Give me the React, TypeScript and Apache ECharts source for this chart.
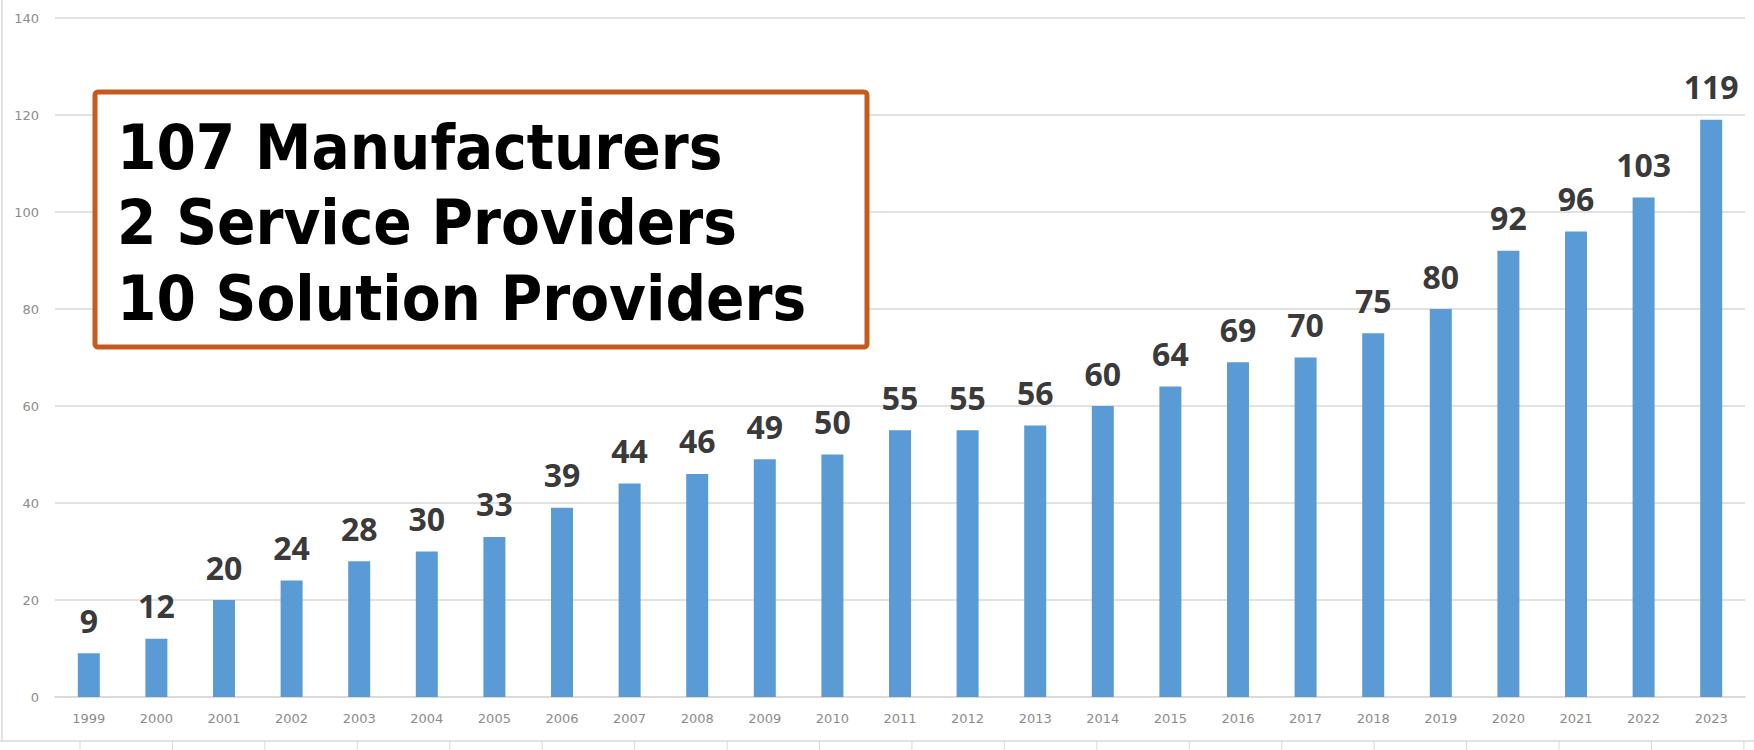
import React, { useEffect, useRef } from "react";
import * as echarts from "echarts";

const years = ["1999","2000","2001","2002","2003","2004","2005","2006","2007","2008","2009","2010","2011","2012","2013","2014","2015","2016","2017","2018","2019","2020","2021","2022","2023"];
const members = [9,12,20,24,28,30,33,39,44,46,49,50,55,55,56,60,64,69,70,75,80,92,96,103,119];
const boxLines = ["107 Manufacturers", "2 Service Providers", "10 Solution Providers"];

export default function App() {
  const ref = useRef<HTMLDivElement>(null);
  useEffect(() => {
    if (!ref.current) return;
    const chart = echarts.init(ref.current, undefined, { renderer: "svg" });
    const frameColor = "#d9d9d9";
    const ticks: any[] = [];
    for (let i = 0; i < 19; i++) {
      const x = 80 + i * 92.44;
      ticks.push({ type: "line", shape: { x1: x, y1: 741, x2: x, y2: 750 }, style: { stroke: frameColor, lineWidth: 1 }, silent: true });
    }
    chart.setOption({
      animation: false,
      backgroundColor: "#ffffff",
      grid: { left: 55, right: 9, top: 18, bottom: 53 },
      xAxis: {
        type: "category",
        data: years,
        axisLine: { lineStyle: { color: "#d9d9d9", width: 1.5 } },
        axisTick: { show: false },
        axisLabel: { color: "#8c8c8c", fontSize: 13, fontFamily: "DejaVu Sans", margin: 15 },
      },
      yAxis: {
        type: "value",
        min: 0,
        max: 140,
        interval: 20,
        axisLine: { show: false },
        axisTick: { show: false },
        splitLine: { lineStyle: { color: "#d9d9d9", width: 1.5 } },
        axisLabel: { color: "#8c8c8c", fontSize: 13, fontFamily: "DejaVu Sans", margin: 16 },
      },
      series: [
        {
          type: "bar",
          data: members,
          barWidth: 22,
          itemStyle: { color: "#5B9BD5" },
          label: {
            show: true,
            position: "top",
            distance: 17,
            color: "#3a3a3a",
            fontSize: 32,
            fontWeight: "bold",
            fontFamily: "Open Sans",
          },
        },
      ],
      graphic: [
        { type: "line", shape: { x1: 2, y1: 0, x2: 2, y2: 741 }, style: { stroke: frameColor, lineWidth: 1.5 }, silent: true },
        { type: "line", shape: { x1: 0, y1: 741, x2: 1754, y2: 741 }, style: { stroke: frameColor, lineWidth: 1.5 }, silent: true },
        ...ticks,
        {
          type: "rect",
          shape: { x: 95, y: 92, width: 772, height: 255, r: 3 },
          style: { fill: "#ffffff", stroke: "#C55A1E", lineWidth: 5 },
          z: 10,
        },
        ...boxLines.map((t, i) => ({
          type: "text",
          x: 117,
          y: 147 + i * 75.5,
          z: 11,
          style: {
            text: t,
            fill: "#000000",
            font: "bold 63px 'DejaVu Sans Condensed'",
            verticalAlign: "middle",
            align: "left",
          },
        })),
      ],
    });
    return () => chart.dispose();
  }, []);
  return <div ref={ref} style={{ position: "fixed", left: 0, top: 0, width: 1754, height: 750 }} />;
}
